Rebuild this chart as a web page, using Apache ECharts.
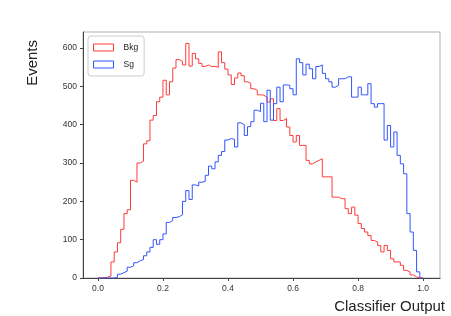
<!DOCTYPE html>
<html>
<head>
<meta charset="utf-8">
<script src="https://cdn.jsdelivr.net/npm/echarts@6/dist/echarts.min.js"></script>
<style>
  html, body { margin: 0; padding: 0; background: #fff; }
  #chart { width: 451px; height: 316px; }
</style>
</head>
<body>
<div id="chart"></div>
<script>
// 100 bins of width 0.01 from 0.0 to 1.0
const binEdges = Array.from({ length: 101 }, (_, i) => +(i / 100).toFixed(2))
const bkgCounts = [
  0, 1, 2, 5, 42, 68, 92, 127, 168, 178,
  255, 250, 300, 305, 350, 358, 412, 424, 460, 472,
  516, 478, 512, 548, 570, 565, 556, 612, 553, 586,
  572, 560, 552, 556, 552, 552, 550, 590, 562, 545,
  530, 505, 522, 535, 528, 512, 508, 494, 490, 478,
  477, 472, 459, 468, 411, 442, 411, 416, 394, 372,
  355, 372, 346, 346, 307, 298, 303, 307, 311, 264,
  264, 264, 211, 211, 207, 207, 181, 168, 185, 164,
  142, 129, 120, 111, 98, 94, 85, 68, 85, 72,
  50, 42, 42, 33, 20, 16, 8, 3, 0, 0
]
const sgCounts = [
  0, 0, 0, 0, 0, 2, 10, 14, 18, 28,
  32, 40, 45, 48, 58, 68, 80, 100, 88, 100,
  115, 145, 150, 158, 160, 165, 200, 228, 205, 243,
  240, 250, 252, 268, 292, 285, 303, 320, 330, 360,
  364, 362, 342, 405, 400, 372, 395, 408, 438, 434,
  456, 408, 490, 412, 455, 498, 460, 504, 503, 494,
  478, 572, 562, 530, 558, 546, 520, 552, 556, 534,
  520, 512, 498, 503, 520, 520, 525, 525, 472, 472,
  498, 478, 478, 507, 455, 446, 455, 455, 360, 398,
  342, 381, 320, 298, 272, 168, 120, 72, 16, 0
]
const xTicks = [0, 0.2, 0.4, 0.6, 0.8, 1.0]
const yTicks = [0, 100, 200, 300, 400, 500, 600]

// step outline like a histtype='step' histogram
const stepData = (counts) => {
  const pts = [[binEdges[0], 0]]
  counts.forEach((c, i) => pts.push([binEdges[i], c]))
  pts.push([binEdges[binEdges.length - 1], 0])
  return pts
}

const RED = '#ff3b3b'
const BLUE = '#3355ff'
const FONT = 'Liberation Sans'

const chart = echarts.init(document.getElementById('chart'))
chart.setOption({
  animation: false,
  textStyle: { fontFamily: FONT },
  grid: {
    left: 83, right: 11, top: 32, bottom: 38,
    show: true, borderColor: '#b0b0b0', borderWidth: 1
  },
  legend: {
    orient: 'vertical',
    left: 88, top: 36,
    padding: [7, 6, 7, 5],
    itemGap: 8,
    itemWidth: 20, itemHeight: 7,
    borderColor: '#cccccc', borderWidth: 1, borderRadius: 3,
    textStyle: { fontSize: 8.5, color: '#222', fontFamily: FONT, padding: [0, 0, 0, 5] },
    data: [
      { name: 'Bkg', icon: 'rect', itemStyle: { color: 'transparent', borderColor: RED, borderWidth: 1 } },
      { name: 'Sg', icon: 'rect', itemStyle: { color: 'transparent', borderColor: BLUE, borderWidth: 1 } }
    ]
  },
  xAxis: {
    type: 'value',
    min: -0.046, max: 1.052,
    splitLine: { show: false },
    axisLine: { onZero: false, lineStyle: { color: '#444' } },
    axisTick: { customValues: xTicks, length: 3, lineStyle: { color: '#444' } },
    axisLabel: {
      customValues: xTicks,
      formatter: (v) => v.toFixed(1),
      fontSize: 8.5, color: '#333', margin: 6
    }
  },
  yAxis: {
    type: 'value',
    min: 0, max: 642,
    name: 'Events',
    nameLocation: 'end',
    nameGap: -8,
    nameRotate: 90,
    nameTextStyle: {
      fontSize: 15, color: '#222', fontFamily: FONT,
      align: 'right', verticalAlign: 'bottom', padding: [0, 0, 43, 0]
    },
    splitLine: { show: false },
    axisLine: { show: true, onZero: false, lineStyle: { color: '#444' } },
    axisTick: { show: true, customValues: yTicks, length: 3, lineStyle: { color: '#444' } },
    axisLabel: { customValues: yTicks, fontSize: 8.5, color: '#333', margin: 6 }
  },
  series: [
    {
      name: 'Bkg', type: 'line', step: 'end', symbol: 'none',
      lineStyle: { color: RED, width: 1 }, itemStyle: { color: RED },
      data: stepData(bkgCounts)
    },
    {
      name: 'Sg', type: 'line', step: 'end', symbol: 'none',
      lineStyle: { color: BLUE, width: 1 }, itemStyle: { color: BLUE },
      data: stepData(sgCounts)
    }
  ],
  graphic: [
    {
      type: 'text', x: 445, y: 307,
      style: { text: 'Classifier Output', font: '15px "Liberation Sans"', fill: '#222', align: 'right', verticalAlign: 'middle' }
    }
  ]
})
</script>
</body>
</html>
